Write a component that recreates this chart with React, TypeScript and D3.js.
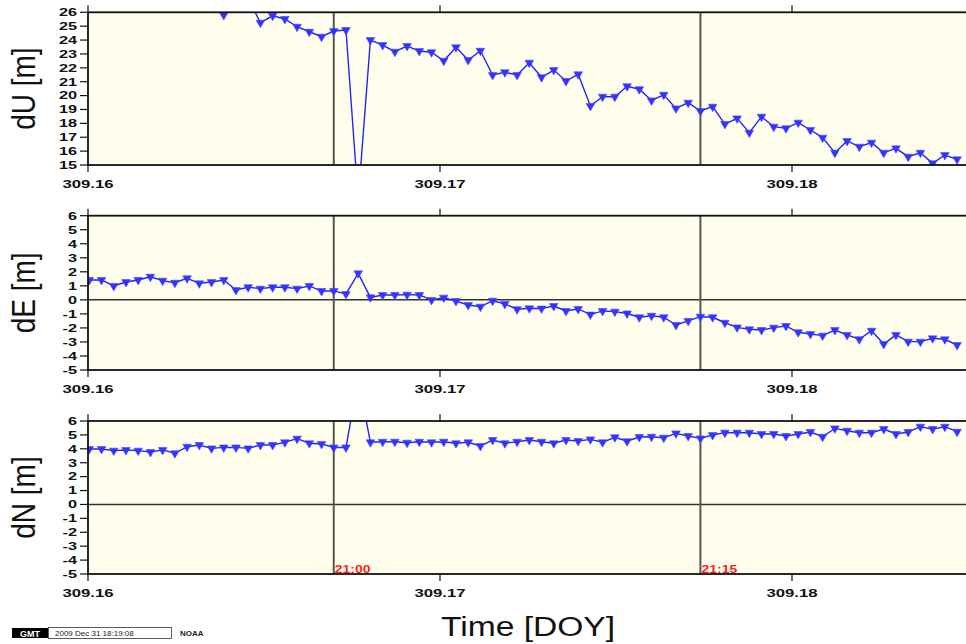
import React from "react";
import * as d3 from "d3";

// ---- data (30 s samples starting 20:50:00) ----
const START_DOY = 309.160037;
const STEP_DOY = 30 / 86400;

const dU = [
  28.4, 28.2, 28.3, 27.9, 27.8, 27.6, 27.7, 27.3, 27.2, 26.9, 27.0, 25.8, 27.5, 27.0, 25.25, 25.75,
  25.52, 24.96, 24.6, 24.24, 24.65, 24.72, 12.5, 24.0, 23.64, 23.16, 23.57, 23.21, 23.12, 22.51,
  23.48, 22.56, 23.23, 21.48, 21.68, 21.48, 22.37, 21.32, 21.84, 21.05, 21.53, 19.25, 19.92, 19.92,
  20.67, 20.46, 19.65, 20.06, 19.08, 19.49, 18.89, 19.2, 17.95, 18.36, 17.33, 18.48, 17.76, 17.64,
  18.05, 17.52, 16.97, 15.88, 16.73, 16.32, 16.61, 15.88, 16.2, 15.6, 15.88, 15.12, 15.72, 15.41,
];
const dE = [
  1.42, 1.42, 0.99, 1.27, 1.42, 1.65, 1.37, 1.22, 1.54, 1.18, 1.27, 1.42, 0.7, 0.9, 0.8, 0.9,
  0.9, 0.8, 0.99, 0.63, 0.64, 0.42, 1.89, 0.18, 0.35, 0.35, 0.37, 0.35, -0.01, 0.16,
  -0.08, -0.37, -0.49, -0.06, -0.29, -0.67, -0.6, -0.62, -0.44, -0.79, -0.65, -1.05, -0.79, -0.84,
  -0.97, -1.24, -1.13, -1.24, -1.79, -1.5, -1.2, -1.24, -1.63, -1.96, -2.1, -2.15, -1.98, -1.86,
  -2.31, -2.43, -2.55, -2.15, -2.5, -2.81, -2.2, -3.15, -2.5, -2.98, -2.98, -2.74, -2.81, -3.22,
];
const dN = [
  3.99, 3.99, 3.87, 3.92, 3.87, 3.77, 3.92, 3.68, 4.15, 4.27, 4.03, 4.1, 4.1, 4.03, 4.27, 4.27,
  4.47, 4.73, 4.4, 4.35, 4.1, 4.1, 9.0, 4.47, 4.51, 4.51, 4.44, 4.51, 4.47, 4.51,
  4.4, 4.47, 4.2, 4.63, 4.4, 4.51, 4.63, 4.51, 4.4, 4.63, 4.56, 4.68, 4.47, 4.83,
  4.55, 4.85, 4.87, 4.8, 5.11, 4.92, 4.75, 4.99, 5.16, 5.16, 5.16, 5.07, 5.07, 4.92,
  5.07, 5.21, 4.87, 5.47, 5.3, 5.16, 5.16, 5.42, 5.07, 5.21, 5.59, 5.42, 5.59, 5.23,
];

const xTicks = [309.16, 309.17, 309.18];
const uTicks = [15, 16, 17, 18, 19, 20, 21, 22, 23, 24, 25, 26];
const enTicks = [-5, -4, -3, -2, -1, 0, 1, 2, 3, 4, 5, 6];
const timeMarkers = [
  { label: "21:00", index: 20 },
  { label: "21:15", index: 50 },
];

const panels = [
  { name: "dU [m]", values: dU, domain: [15, 26], ticks: uTicks, zero: false },
  { name: "dE [m]", values: dE, domain: [-5, 6], ticks: enTicks, zero: true },
  { name: "dN [m]", values: dN, domain: [-5, 6], ticks: enTicks, zero: true },
];

// ---- layout ----
const W = 966;
const H = 644;
const LEFT = 88;
const RIGHT = 972;
const PANEL_BOX = [
  { top: 12.3, bottom: 165 },
  { top: 215.7, bottom: 370 },
  { top: 421, bottom: 574 },
];
const BG = "#fffeec";
const BLUE = "#2222ff";
const TICK_FONT = "'Liberation Sans', Arial, sans-serif";

const x = d3.scaleLinear().domain([309.16, 309.18]).range([LEFT, LEFT + 704]);
const tAt = (i: number) => START_DOY + i * STEP_DOY;
const tri = d3.symbol().type(d3.symbolTriangle).size(32)();

function Panel({ p, box, idx, last }: any) {
  const y = d3.scaleLinear().domain(p.domain).range([box.bottom, box.top]);
  const line = d3
    .line<number>()
    .x((_, i) => x(tAt(i)))
    .y((v) => y(v));
  const clipId = `clip-${idx}`;
  const cy = (box.top + box.bottom) / 2;
  return (
    <g>
      <defs>
        <clipPath id={clipId}>
          <rect x={LEFT} y={box.top} width={RIGHT - LEFT} height={box.bottom - box.top} />
        </clipPath>
      </defs>
      <rect x={LEFT} y={box.top} width={RIGHT - LEFT} height={box.bottom - box.top} fill={BG} />
      {p.zero && (
        <line x1={LEFT} x2={RIGHT} y1={y(0)} y2={y(0)} stroke="#333" strokeWidth={1.5} />
      )}
      {timeMarkers.map((m) => (
        <line
          key={m.label}
          x1={x(tAt(m.index))}
          x2={x(tAt(m.index))}
          y1={box.top}
          y2={box.bottom}
          stroke="#555"
          strokeWidth={2}
        />
      ))}
      {last &&
        timeMarkers.map((m) => (
          <text
            key={"l" + m.label}
            transform={`translate(${x(tAt(m.index)) + 1},${box.bottom - 1.5}) scale(1.4,1)`}
            fill="#ff1a1a"
            fontFamily={TICK_FONT}
            fontWeight="bold"
            fontSize={10}
          >
            {m.label}
          </text>
        ))}
      <g clipPath={`url(#${clipId})`}>
        <path d={line(p.values) || ""} fill="none" stroke={BLUE} strokeWidth={1.4} />
        {p.values.map((v: number, i: number) => (
          <path
            key={i}
            d={tri || ""}
            transform={`translate(${x(tAt(i))},${y(v)}) rotate(180)`}
            fill="#3333ff"
            stroke="#4444ff"
            strokeWidth={0.6}
          />
        ))}
      </g>
      <rect
        x={LEFT}
        y={box.top}
        width={RIGHT - LEFT}
        height={box.bottom - box.top}
        fill="none"
        stroke="#111"
        strokeWidth={1.8}
      />
      {p.ticks.map((t: number) => (
        <g key={t}>
          <line x1={LEFT - 8} x2={LEFT} y1={y(t)} y2={y(t)} stroke="#111" strokeWidth={1.2} />
          <text
            transform={`translate(${LEFT - 11},${y(t) + 3.8}) scale(1.55,1)`}
            textAnchor="end"
            fontFamily={TICK_FONT}
            fontWeight="bold"
            fontSize={10.5}
            fill="#111"
          >
            {t}
          </text>
        </g>
      ))}
      {xTicks.map((t) => (
        <g key={t}>
          <line x1={x(t)} x2={x(t)} y1={box.top - 7} y2={box.top} stroke="#111" strokeWidth={1.2} />
          <line x1={x(t)} x2={x(t)} y1={box.bottom} y2={box.bottom + 7} stroke="#111" strokeWidth={1.2} />
          <text
            transform={`translate(${x(t)},${box.bottom + 23}) scale(1.55,1)`}
            textAnchor="middle"
            fontFamily={TICK_FONT}
            fontWeight="bold"
            fontSize={10.8}
            fill="#111"
          >
            {t.toFixed(2)}
          </text>
        </g>
      ))}
      <text
        transform={`translate(35,${cy}) scale(1.2,1) rotate(-90)`}
        textAnchor="middle"
        fontFamily={TICK_FONT}
        fontSize={28}
        fill="#111"
      >
        {p.name}
      </text>
    </g>
  );
}

export default function App() {
  return (
    <svg
      width={W}
      height={H}
      style={{ position: "absolute", left: 0, top: 0, display: "block", background: "#fff" }}
    >
      {panels.map((p, i) => (
        <Panel key={p.name} p={p} box={PANEL_BOX[i]} idx={i} last={i === panels.length - 1} />
      ))}
      <text
        transform={`translate(528,636) scale(1.2,1)`}
        textAnchor="middle"
        fontFamily={TICK_FONT}
        fontSize={28}
        fill="#111"
      >
        Time [DOY]
      </text>
      <rect x={12} y={628} width={36} height={10} fill="#000" />
      <text x={30} y={636.5} textAnchor="middle" fontFamily={TICK_FONT} fontWeight="bold" fontSize={9} fill="#fff">
        GMT
      </text>
      <rect x={48.5} y={627.5} width={123} height={11} fill="#fff" stroke="#333" strokeWidth={0.8} />
      <text x={55} y={636} fontFamily={TICK_FONT} fontSize={8} fill="#222">
        2009 Dec 31  18:19:08
      </text>
      <text x={180} y={636} fontFamily={TICK_FONT} fontWeight="bold" fontSize={8} fill="#222">
        NOAA
      </text>
    </svg>
  );
}
